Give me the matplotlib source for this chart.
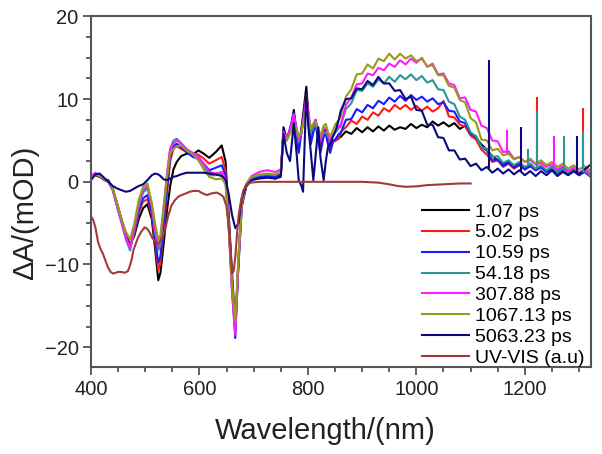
import numpy as np
import matplotlib
matplotlib.use("Agg")
import matplotlib.pyplot as plt
from matplotlib.ticker import MultipleLocator

plt.rcParams['font.family'] = ['Liberation Sans', 'DejaVu Sans']

# -----------------------------
# Transient absorption data
# -----------------------------
wavelength = [
    400, 408, 416, 424, 432, 440, 448, 456, 464, 472, 480, 488, 496, 504, 512, 518, 524, 528, 534, 540,
    546, 552, 558, 566, 576, 588, 598, 608, 618, 630, 641, 648, 654, 660, 666, 672, 678, 686, 696, 710,
    725, 740, 750,
    755, 761, 767, 774, 779, 783, 788, 791, 797, 801, 805, 810, 814, 819, 823, 829, 833, 837, 841, 846,
    851, 857,
    860, 870, 880, 890, 900, 910, 920, 930, 940, 950, 960, 970, 980, 990, 1000, 1010, 1020, 1030, 1040,
    1050, 1060, 1070, 1080, 1090, 1100, 1110, 1120, 1130, 1140, 1150, 1160, 1170, 1180, 1190, 1200,
    1210, 1220, 1230, 1240, 1250, 1260, 1270, 1280, 1290, 1300, 1310, 1320,
]

dA_1ps = [
    0.5, 0.8, 0.6, 0.3, 0.2, -0.8, -2.6, -4.5, -6.3, -7.6, -6.5, -4.5, -3.2, -2.7, -4.5, -8.0, -11.9, -11.0, -7.5, -3.5,
    -0.5, 1.5, 2.4, 3.1, 3.4, 3.3, 3.8, 3.4, 2.9, 3.6, 4.4, 2.5, -4.0, -11.0, -17.5, -10.0, -3.0, -0.6, 0.3, 0.5,
    0.6, 0.4, 0.8,
    6.6, 5.1, 6.0, 8.7, 6.0, 3.8, 6.5, 8.0, 11.5, 8.0, 5.1, 6.5, 7.5, 5.5, 4.2, 6.0, 6.3, 5.0, 3.8, 5.0, 5.0, 5.4,
    5.4, 6.1, 5.8, 6.5, 6.0, 6.6, 6.1, 6.7, 6.2, 6.8, 6.3, 6.6, 6.4, 7.0, 6.5, 6.9, 6.6, 7.3, 6.8, 7.2,
    6.7, 7.1, 6.4, 6.8, 5.9, 5.3, 4.5, 3.9, 3.1, 2.6, 2.1, 2.5, 1.8, 2.3, 1.6, 2.1, 1.5, 1.9, 1.3, 1.8,
    1.2, 1.7, 1.1, 1.6, 1.0, 1.5, 1.0,
]
dA_5ps = [
    0.6, 0.9, 0.7, 0.2, 0.0, -0.9, -2.8, -4.6, -6.5, -7.8, -6.2, -3.8, -2.4, -2.1, -4.0, -7.3, -10.7, -9.8, -5.8, -1.5,
    2.5, 4.0, 4.3, 4.0, 3.6, 3.3, 3.3, 2.8, 2.2, 2.6, 3.0, 1.4, -4.5, -12.0, -17.8, -9.0, -2.5, -0.4, 0.4, 0.6,
    0.8, 0.6, 1.0,
    6.0, 5.5, 6.2, 8.0, 6.0, 4.5, 6.0, 7.5, 10.5, 8.0, 5.5, 6.5, 7.2, 5.5, 4.5, 6.0, 6.0, 5.0, 4.0, 4.8, 5.0, 5.2,
    6.0, 6.6, 7.4, 7.0, 7.9, 7.5, 8.4, 8.0, 8.9, 8.5, 9.3, 8.8, 9.3, 8.7, 9.2, 8.6, 9.1, 8.5, 8.9, 9.8,
    7.9, 7.8, 6.9, 6.7, 5.6, 5.1, 3.9, 3.3, 2.4, 2.6, 1.8, 2.2, 1.6, 2.0, 1.5, 1.9, 1.4, 1.7, 1.2, 1.6,
    1.0, 1.4, 0.9, 1.3, 0.8, 1.2, 0.7,
]
dA_10ps = [
    0.7, 1.0, 0.6, 0.3, 0.1, -0.9, -2.9, -4.7, -6.6, -8.0, -6.0, -3.5, -2.0, -1.6, -3.6, -6.8, -9.8, -9.0, -5.0, -0.8,
    3.0, 4.3, 4.6, 4.2, 3.6, 3.0, 2.8, 2.2, 1.4, 1.7, 2.0, 0.8, -5.0, -12.5, -18.9, -9.5, -2.8, -0.5, 0.4, 0.6,
    0.7, 0.6, 1.0,
    6.2, 5.0, 6.5, 8.3, 5.5, 3.5, 6.0, 7.5, 10.0, 7.0, 4.5, 6.0, 7.0, 5.0, 3.5, 5.5, 5.8, 4.5, 3.5, 4.8, 5.2, 5.8,
    5.8, 7.5, 7.6, 8.8, 8.4, 9.3, 8.9, 9.8, 9.4, 10.2, 9.7, 10.4, 9.8, 10.5, 9.9, 10.3, 9.7, 10.1, 9.4, 9.6,
    8.6, 8.5, 7.3, 7.1, 5.8, 5.5, 4.2, 3.8, 2.6, 2.7, 1.9, 2.3, 1.7, 2.1, 1.5, 1.9, 1.4, 1.8, 1.2, 1.6,
    1.1, 1.5, 0.9, 1.3, 0.8, 1.2, 0.7,
]
dA_54ps = [
    0.6, 1.0, 0.7, 0.3, 0.0, -1.0, -3.0, -4.9, -6.9, -8.3, -5.8, -3.0, -1.3, -0.8, -3.0, -6.0, -8.3, -7.6, -3.6, 0.5,
    4.0, 5.0, 5.2, 4.7, 4.0, 3.4, 3.0, 2.0, 0.8, 0.8, 1.0, 0.2, -5.5, -13.0, -18.0, -9.0, -2.5, -0.4, 0.5, 0.8,
    0.9, 0.8, 1.2,
    5.8, 5.5, 6.0, 7.5, 6.0, 4.8, 6.0, 7.0, 9.5, 7.5, 6.0, 6.5, 7.0, 6.0, 5.0, 6.0, 6.0, 5.5, 5.0, 5.5, 6.0, 6.5,
    6.8, 8.8, 9.5, 11.1, 11.0, 11.9, 11.5, 12.4, 11.9, 12.7, 12.1, 12.9, 12.4, 13.0, 12.3, 12.8, 12.0, 12.3, 11.2, 11.1,
    9.7, 9.4, 7.9, 7.5, 6.0, 5.5, 4.2, 4.0, 3.0, 3.1, 2.3, 2.6, 2.0, 2.4, 1.8, 2.2, 1.6, 2.0, 1.4, 1.8,
    1.2, 1.6, 1.1, 1.4, 1.0, 1.3, 0.8,
]
dA_308ps = [
    0.7, 1.1, 0.8, 0.4, 0.0, -1.0, -2.9, -4.8, -6.7, -8.0, -5.5, -2.6, -1.0, -0.5, -2.8, -5.6, -7.8, -7.0, -3.0, 1.0,
    4.0, 4.6, 5.0, 4.6, 3.9, 3.5, 3.0, 2.2, 1.2, 1.0, 1.2, 0.3, -5.5, -13.5, -18.5, -9.5, -2.6, -0.3, 0.7, 1.2,
    1.4, 1.2, 1.5,
    6.0, 5.2, 6.3, 8.2, 6.5, 5.0, 6.0, 7.2, 9.8, 8.5, 6.5, 7.0, 7.5, 6.2, 5.0, 6.5, 6.5, 5.8, 5.0, 5.5, 6.2, 6.8,
    6.6, 9.3, 10.2, 11.8, 11.9, 13.1, 12.9, 13.8, 13.5, 14.3, 13.9, 14.7, 14.2, 14.9, 14.4, 15.0, 13.9, 14.3, 13.0, 13.1,
    11.9, 11.7, 10.1, 10.2, 8.7, 8.5, 6.8, 6.5, 5.0, 4.9, 3.6, 3.7, 2.8, 3.0, 2.4, 2.6, 2.1, 2.3, 1.8, 2.1,
    1.5, 1.9, 1.3, 1.7, 1.1, 1.5, 1.0,
]
dA_1067ps = [
    0.5, 0.9, 0.7, 0.4, 0.1, -0.8, -2.6, -4.4, -6.0, -7.0, -5.0, -2.2, -0.6, -0.2, -2.5, -5.0, -7.0, -6.5, -3.0, 0.5,
    3.4, 4.0, 4.3, 4.4, 3.8, 3.3, 2.6, 1.5, 0.6, 0.3, 0.4, -0.3, -5.5, -12.5, -16.8, -9.0, -2.5, -0.3, 0.6, 0.9,
    1.0, 0.9, 1.2,
    5.5, 5.0, 5.8, 7.0, 6.5, 5.5, 6.0, 7.0, 8.8, 8.0, 6.5, 7.0, 7.3, 6.5, 5.5, 6.8, 7.0, 6.0, 5.5, 6.2, 7.0, 7.5,
    7.8, 10.3, 11.2, 13.0, 13.1, 14.2, 13.7, 14.9, 14.6, 15.5, 14.8, 15.5, 14.9, 15.3, 14.6, 14.9, 14.0, 14.1, 12.9, 12.9,
    11.6, 11.4, 9.9, 9.6, 7.7, 7.2, 5.1, 5.0, 3.8, 4.0, 3.2, 3.4, 2.7, 3.0, 2.4, 2.8, 2.2, 2.6, 2.0, 2.4,
    1.8, 2.2, 1.6, 2.0, 1.5, 1.9, 1.4,
]
dA_5063ps = [
    0.2, 0.9, 1.0, 0.5, 0.0, -0.5, -0.8, -1.0, -1.2, -1.1, -0.8, -0.5, -0.3, 0.2, 0.8, 1.0, 0.9, 0.7, 0.3, 0.2,
    0.4, 0.6, 0.7, 0.9, 1.1, 1.1, 1.1, 1.1, 1.0, 0.9, 0.7, 0.3, -1.5, -4.0, -5.6, -5.0, -2.0, -0.5, 0.2, 0.4,
    0.5, 0.4, 0.6,
    5.8, 3.5, 2.5, 7.1, 3.5, 0.2, -0.5, -1.2, 10.7, 6.5, 3.8, 0.2, 3.0, 6.6, 3.0, 0.2, 2.5, 4.2, 4.5, 5.5, 6.2, 7.5,
    8.5, 10.0, 10.1, 11.3, 11.2, 12.2, 11.7, 12.7, 11.9, 11.9, 11.0, 11.1, 10.0, 10.3, 8.7, 8.6, 6.9, 6.9, 5.4, 5.3,
    3.8, 3.8, 2.7, 2.8, 1.9, 2.2, 1.4, 1.8, 1.1, 1.6, 1.0, 1.5, 0.9, 1.4, 0.8, 1.3, 0.7, 1.3, 0.8, 1.4,
    0.7, 1.2, 0.8, 1.3, 0.9, 1.5, 2.0,
]

labels = ["1.07 ps", "5.02 ps", "10.59 ps", "54.18 ps", "307.88 ps", "1067.13 ps", "5063.23 ps"]
series = [dA_1ps, dA_5ps, dA_10ps, dA_54ps, dA_308ps, dA_1067ps, dA_5063ps]
colors = ["#000000", "#ff1a1a", "#1a1aff", "#2a9696", "#ff1aff", "#9a9a1a", "#0a0a80"]

# detector spikes in the NIR (wavelength, base, top, which trace)
spike_wl = [1134, 1168, 1193, 1205, 1222, 1222, 1254, 1272, 1297, 1308, 1308]
spike_base = [1.5, 3.4, 1.2, 2.2, 1.8, 1.8, 2.0, 1.6, 1.1, 1.2, 1.2]
spike_top = [14.7, 6.3, 6.6, 4.0, 10.3, 8.6, 5.6, 5.6, 5.6, 8.9, 6.2]
spike_trace = [6, 4, 6, 3, 1, 3, 4, 3, 6, 1, 3]

# steady-state absorption (scaled)
uv_wl = [
    400, 404, 408, 413, 418, 422, 427, 431, 436, 441, 450, 456, 462, 468, 471, 475, 478, 483, 487, 493,
    499, 504, 508, 513, 518, 524, 529, 533, 538, 542, 548, 555, 561, 567, 575, 582, 589, 598, 606, 614,
    622, 632, 638, 644, 650, 654, 657, 660, 663, 666, 669, 672, 676, 681, 687, 694, 710, 800, 900, 930,
    950, 965, 980, 1000, 1020, 1050, 1080, 1100,
]
uv_abs = [
    -4.2, -4.6, -5.5, -7.3, -8.2, -8.7, -9.6, -10.3, -10.9, -11.1, -10.9, -10.9, -11.0, -10.8, -10.3, -9.4, -8.3, -7.4, -6.7, -6.0,
    -5.5, -5.7, -6.1, -6.8, -7.1, -7.5, -7.0, -6.5, -5.4, -4.2, -2.9, -2.2, -1.8, -1.6, -1.4, -1.2, -1.1, -1.1, -1.4, -1.6,
    -1.4, -1.3, -1.5, -1.8, -3.0, -5.5, -8.0, -11.1, -10.8, -9.1, -6.5, -4.2, -2.5, -1.0, -0.4, -0.1, 0.0, 0.0, 0.0, -0.1,
    -0.3, -0.5, -0.6, -0.55, -0.4, -0.3, -0.2, -0.2,
]

# -----------------------------
# Plot
# -----------------------------
fig = plt.figure(figsize=(6.02, 4.54), dpi=100)
ax = fig.add_axes([0.1512, 0.1916, 0.8305, 0.7721])

for y, lab, c in zip(series, labels, colors):
    ax.plot(wavelength, y, color=c, lw=1.5, label=lab)

for w, b, t, k in zip(spike_wl, spike_base, spike_top, spike_trace):
    ax.vlines(w, b, t, colors=colors[k], lw=1.5)

ax.plot(uv_wl, uv_abs, color="#a33a3a", lw=1.5, label="UV-VIS (a.u)")

ax.set_xlim(400, 1322)
ax.set_ylim(-22.4, 20)
ax.xaxis.set_major_locator(MultipleLocator(200))
ax.xaxis.set_minor_locator(MultipleLocator(50))
ax.yaxis.set_major_locator(MultipleLocator(10))
ax.yaxis.set_minor_locator(MultipleLocator(2.5))

for s in ax.spines.values():
    s.set_color("#555555")
    s.set_linewidth(1.5)
ax.tick_params(which="both", direction="out", color="#555555", width=1.3, top=False, right=False)
ax.tick_params(which="major", length=6, labelsize=14.5, labelcolor="#222222", pad=3)
ax.tick_params(which="minor", length=3.5)

ax.set_xlabel("Wavelength/(nm)", fontsize=21, color="#222222")
ax.xaxis.set_label_coords(0.468, -0.142)
ax.set_ylabel("ΔA/(mOD)", fontsize=21, color="#222222")
ax.yaxis.set_label_coords(-0.104, 0.44)

ax.legend(loc="upper left", bbox_to_anchor=(0.663, 0.468), frameon=False, fontsize=14,
          handlelength=2.4, handletextpad=0.3, labelspacing=0.17, borderpad=0, borderaxespad=0)

fig.savefig("out.png", dpi=100)
